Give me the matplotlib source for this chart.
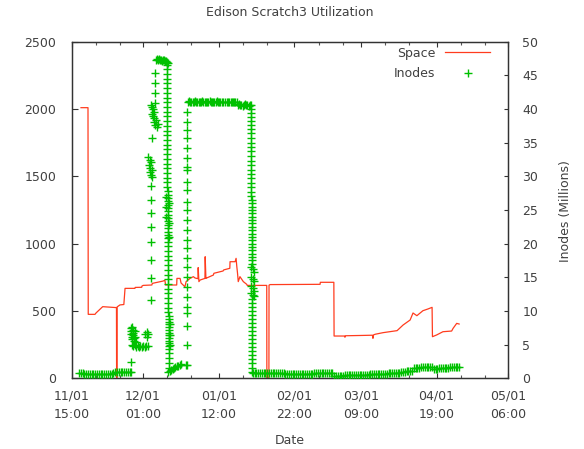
import matplotlib
matplotlib.use('Agg')
import matplotlib.pyplot as plt
import numpy as np
from matplotlib.lines import Line2D

# ---- axis definitions (time in days since 11/01 15:00) ----
x_max = 180.625
tick_days = [0.0, 29.4167, 60.875, 92.2917, 119.75, 151.1667, 180.625]
tick_labels = ['11/01\n15:00', '12/01\n01:00', '01/01\n12:00', '02/01\n22:00',
               '03/01\n09:00', '04/01\n19:00', '05/01\n06:00']
minor_days = [10.0, 20.0, 39.4, 49.4, 70.9, 80.9, 102.3, 112.3, 129.8, 139.8, 161.2, 171.2]
space_ticks = [0, 500, 1000, 1500, 2000, 2500]
inode_ticks = [0, 5, 10, 15, 20, 25, 30, 35, 40, 45, 50]

# ---- Space series (left axis) ----
space_t = [3.85, 6.75, 6.85, 9.65, 10.07, 12.84, 18.55, 18.6, 18.75, 18.8, 20.0, 21.6, 22.1,
           26.2, 26.3, 29.0, 29.1, 29.6, 33.2, 33.4, 37.8, 38.6, 38.9, 43.5, 43.6, 44.9,
           45.3, 46.9, 47.4, 49.0, 50.4, 51.1, 52.3, 52.4, 52.7, 53.2, 55.2, 55.3, 55.6,
           55.9, 58.7, 58.9, 62.7, 63.0, 65.5, 65.6, 67.7, 68.1, 68.4, 68.7, 69.0, 69.7,
           71.1, 72.5, 72.7, 80.8, 80.85, 81.7, 81.75, 82.2, 102.9, 103.0, 108.6, 108.7,
           113.0, 113.2, 113.4, 119.4, 124.6, 124.8, 125.0, 125.7, 129.0, 134.8, 137.3,
           140.2, 141.4, 143.0, 145.5, 147.6, 149.3, 149.45, 151.2, 153.8, 157.4, 158.0,
           159.5, 160.5]
space_v = [2010, 2010, 475, 475, 485, 532, 525, 0, 0, 530, 545, 548, 668,
           668, 675, 676, 685, 690, 693, 705, 722, 728, 693, 693, 742, 742,
           708, 680, 718, 742, 755, 745, 740, 822, 718, 730, 742, 903, 742,
           745, 767, 780, 797, 805, 817, 866, 866, 891, 830, 780, 718, 755,
           718, 698, 690, 690, 0, 0, 692, 696, 698, 713, 713, 314,
           314, 305, 316, 318, 320, 297, 322, 327, 339, 354, 396,
           433, 485, 465, 502, 515, 527, 309, 322, 346, 351, 371,
           408, 403]

# ---- Inodes series (right axis, millions) ----
band_early_t = [3.0, 3.75, 4.5, 5.25, 6.0, 6.75, 7.5, 8.25, 9.0, 9.75, 10.5, 11.25, 12.0,
                12.75, 13.5, 14.25, 15.0, 15.75, 16.5, 17.25, 18.0, 18.75, 19.5, 20.25,
                21.0, 21.75, 22.5, 23.25, 24.0, 24.75]
band_early_v = [0.8, 0.78, 0.75, 0.7, 0.65, 0.62, 0.6, 0.6, 0.6, 0.6, 0.6, 0.6, 0.6,
                0.6, 0.6, 0.62, 0.62, 0.65, 0.7, 0.8, 0.95, 0.95, 0.95, 0.95,
                0.97, 0.97, 0.98, 1.0, 1.0, 1.0]

cluster_dec_t = [24.7, 24.5, 24.6, 24.7, 24.8, 24.9, 25.1, 25.3, 25.4, 25.6, 25.7, 25.9,
                 26.1, 26.3, 26.5, 24.9, 25.5, 26.1, 26.7, 27.3, 27.9, 28.5, 29.1, 29.7,
                 30.3, 30.9, 31.5, 30.5, 31.0, 31.3, 31.6]
cluster_dec_v = [2.4, 7.4, 7.0, 6.6, 6.2, 5.8, 7.6, 7.2, 6.4, 6.8, 5.6, 6.0,
                 7.0, 6.2, 5.4, 5.0, 4.8, 4.9, 4.7, 4.8, 4.7, 4.8, 4.7, 4.8,
                 4.7, 4.8, 4.8, 6.6, 6.9, 6.2, 6.6]

rise_t = [32.7, 32.7, 32.7, 32.7, 32.7, 32.7, 32.7, 32.7, 33.3,
          31.8, 32.3, 32.8, 32.1, 32.6, 33.1, 32.4, 32.9, 33.3,
          32.8, 33.3, 33.8, 34.2, 33.2, 33.7, 34.3, 34.8, 34.0, 34.6, 35.2, 35.6,
          34.7, 34.7, 34.7, 34.7]
rise_v = [11.6, 14.9, 17.6, 20.3, 22.5, 24.5, 26.5, 28.5, 35.7,
          32.8, 32.5, 32.2, 31.7, 31.3, 31.0, 30.6, 30.2, 29.9,
          40.6, 40.3, 40.0, 39.6, 39.3, 39.0, 38.7, 38.4, 38.0, 37.7, 37.4, 37.8,
          40.9, 42.4, 43.9, 45.4]

peak_t = [34.9, 35.3, 35.7, 36.1, 36.5, 36.9, 37.3, 37.7, 38.1, 38.5, 38.9, 39.3, 39.8]
peak_v = [47.3, 47.4, 47.3, 47.4, 47.3, 47.3, 47.2, 47.3, 47.3, 47.2, 47.1, 47.0, 46.9]

fall1_t = [39.4, 39.4, 39.4, 39.4, 39.4, 39.4, 39.4, 39.4, 39.4, 39.4, 39.4, 39.4, 39.4,
           39.4, 39.4, 39.4, 39.4, 39.4, 39.4, 39.4, 39.4, 39.4, 39.4, 39.4, 39.4, 39.4, 39.4,
           39.8, 39.8, 39.8, 39.8, 39.8, 39.8, 39.8, 39.8, 39.8, 39.8, 39.8, 39.8, 39.8,
           39.8, 39.8, 39.8, 39.2, 39.2, 39.2, 40.2, 40.2, 40.2,
           40.0, 40.0, 40.0, 40.0, 40.0, 40.0, 40.0, 40.0, 40.0, 40.0, 40.0, 40.0, 40.0,
           40.0, 40.0, 40.3, 40.3, 40.3, 40.3, 40.3, 40.3, 40.3, 40.3, 40.3, 40.3, 40.3,
           40.3, 40.3, 40.8, 40.8, 40.8, 40.5, 40.5, 40.5, 40.5]
fall1_v = [46.6, 45.9, 45.2, 44.5, 43.8, 43.1, 42.4, 41.7, 41.0, 40.3, 39.6, 38.9, 38.2,
           37.5, 36.8, 36.1, 35.4, 34.7, 34.0, 33.3, 32.6, 31.9, 31.2, 30.5, 29.8, 29.1, 28.4,
           27.8, 27.3, 26.8, 26.3, 25.8, 25.3, 24.8, 24.3, 23.8, 23.3, 22.8, 22.3, 21.8,
           21.3, 20.8, 20.3, 27.0, 25.5, 24.0, 26.0, 23.0, 21.0,
           19.6, 18.9, 18.2, 17.5, 16.8, 16.1, 15.4, 14.7, 14.0, 13.3, 12.6, 11.9, 11.2,
           10.5, 9.8, 9.2, 8.8, 8.4, 8.0, 7.6, 7.2, 6.8, 6.4, 6.0, 5.6, 5.2,
           4.8, 4.4, 8.0, 6.5, 5.0, 3.7, 3.0, 2.3, 1.6]

low_jan_t = [40.0, 40.6, 41.2, 41.8, 42.4, 43.0, 43.6, 44.2, 44.8, 45.4, 47.3]
low_jan_v = [1.0, 1.1, 1.2, 1.4, 1.5, 1.7, 1.8, 1.9, 2.0, 2.1, 2.0]

rise2_t = [47.6, 47.6, 47.6, 47.6, 47.6, 47.6, 47.6, 47.6, 47.6, 47.6, 47.6, 47.6, 47.6,
           47.6, 47.6, 47.6, 47.6, 47.6, 47.6, 47.6, 47.6, 47.6, 47.6, 47.6, 47.6, 47.6]
rise2_v = [2.0, 4.9, 7.7, 9.7, 10.6, 12.1, 13.6, 15.1, 16.6, 17.8, 19.3, 20.5, 22.0,
           23.5, 25.0, 26.2, 28.0, 29.2, 30.9, 31.4, 32.7, 34.2, 35.7, 36.9, 38.1, 39.6]

plateau_t = [48.1, 48.6, 49.1, 49.6, 50.1, 50.6, 51.1, 51.6, 52.1, 52.6, 53.1, 53.6, 54.1,
             54.6, 55.1, 55.6, 56.1, 56.6, 57.1, 57.6, 58.1, 58.6, 59.1, 59.6, 60.1, 60.6,
             61.1, 61.6, 62.1, 62.6, 63.5, 64.3, 64.8, 65.3, 65.8, 66.3, 66.8, 67.3, 67.8,
             68.3, 68.8, 69.3, 69.8, 70.3, 70.8, 71.3, 71.8, 72.3, 72.8, 73.3, 73.8, 74.3]
plateau_v = [41.1, 41.2, 41.1, 41.1, 41.0, 41.1, 41.2, 41.1, 41.1, 41.0, 41.1, 41.1, 41.2,
             41.1, 41.1, 41.0, 41.1, 41.1, 41.2, 41.1, 41.1, 41.0, 41.1, 41.1, 41.2, 41.1,
             41.1, 41.0, 41.1, 41.1, 41.1, 41.1, 41.0, 41.1, 41.0, 41.0, 41.1, 41.0, 41.0,
             41.0, 40.6, 40.7, 40.6, 40.6, 40.5, 40.6, 40.7, 40.6, 40.6, 40.5, 40.6, 40.6]

fall2_t = [74.3, 74.3, 74.3, 74.3, 74.3, 74.3, 74.3, 74.3, 74.3, 74.3, 74.3, 74.3, 74.3,
           74.3, 74.3, 74.3, 74.3, 74.3, 74.3, 74.3, 74.3,
           74.6, 74.6, 74.6, 74.6, 74.6, 74.6, 74.6, 74.6, 74.6, 74.6, 74.6, 74.6, 74.6,
           74.6, 74.6, 74.6, 74.6, 74.6, 74.6, 74.6,
           74.2, 75.0, 75.7, 74.2, 75.0, 75.7, 74.2, 75.0, 75.7, 74.2, 75.0, 75.7,
           74.9, 74.9, 74.9, 74.9, 74.9, 74.9, 74.9, 74.9, 74.9, 74.9, 74.9, 74.9, 74.9,
           74.9, 74.9, 74.9, 74.9, 74.9, 74.9]
fall2_v = [40.0, 39.4, 38.8, 38.2, 37.6, 37.0, 36.4, 35.7, 35.0, 34.4, 33.7, 33.0, 32.3,
           31.7, 31.0, 30.3, 29.7, 29.0, 28.4, 27.7, 27.1,
           26.5, 26.0, 25.5, 25.0, 24.5, 24.0, 23.5, 23.0, 22.5, 22.0, 21.5, 21.0, 20.5,
           20.0, 19.5, 19.0, 18.5, 18.0, 17.5, 17.0,
           16.5, 16.2, 15.8, 15.1, 14.8, 14.4, 13.7, 13.4, 13.0, 12.6, 12.4, 12.2,
           11.8, 11.2, 10.6, 10.0, 9.4, 8.8, 8.2, 7.6, 7.0, 6.4, 5.8, 5.2, 4.6,
           4.0, 3.4, 2.8, 2.2, 1.6, 1.0]

band_late_t = [75.0, 75.75, 76.5, 77.25, 78.0, 78.75, 79.5, 80.25, 81.0, 81.75, 82.5, 83.25,
               84.0, 84.75, 85.5, 86.25, 87.0, 87.75, 88.5, 89.25, 90.0, 90.75, 91.5, 92.25,
               93.0, 93.75, 94.5, 95.25, 96.0, 96.75, 97.5, 98.25, 99.0, 99.75, 100.5, 101.25,
               102.0, 102.75, 103.5, 104.25, 105.0, 105.75, 106.5, 107.25, 108.0, 108.75,
               109.5, 110.25, 111.0, 111.75, 112.5, 113.25, 114.0, 114.75, 115.5, 116.25,
               117.0, 117.75, 118.5, 119.25, 120.0, 120.75, 121.5, 122.25, 123.0, 123.75,
               124.5, 125.25, 126.0, 126.75, 127.5, 128.25, 129.0, 129.75, 130.5, 131.25,
               132.0, 132.75, 133.5, 134.25, 135.0, 135.75, 136.5, 137.25, 138.0, 138.75,
               139.5, 140.25, 141.0, 141.75, 142.5, 143.25, 144.0, 144.75, 145.5, 146.25,
               147.0, 147.75, 148.5, 149.25, 150.0, 150.75, 151.5, 152.25, 153.0, 153.75,
               154.5, 155.25, 156.0, 156.75, 157.5, 158.25, 159.0, 159.75, 160.5]
band_late_v = [0.75, 0.75, 0.75, 0.74, 0.74, 0.74, 0.74, 0.74, 0.73, 0.73, 0.73, 0.73,
               0.72, 0.72, 0.72, 0.72, 0.72, 0.72, 0.7, 0.7, 0.7, 0.7, 0.7, 0.7,
               0.7, 0.7, 0.7, 0.7, 0.7, 0.7, 0.7, 0.7, 0.7, 0.7, 0.72, 0.72,
               0.72, 0.72, 0.72, 0.72, 0.72, 0.72, 0.72, 0.72, 0.72, 0.3,
               0.3, 0.3, 0.3, 0.3, 0.3, 0.45, 0.45, 0.46, 0.47, 0.48,
               0.48, 0.5, 0.5, 0.5, 0.52, 0.53, 0.54, 0.55, 0.55, 0.65,
               0.66, 0.67, 0.68, 0.68, 0.69, 0.7, 0.7, 0.7, 0.71, 0.72,
               0.72, 0.73, 0.74, 0.74, 0.75, 0.75, 0.95, 0.98, 1.0, 1.02,
               1.05, 1.08, 1.1, 1.5, 1.55, 1.6, 1.6, 1.62, 1.65, 1.65,
               1.68, 1.7, 1.7, 1.7, 1.35, 1.35, 1.35, 1.55, 1.55, 1.58,
               1.6, 1.6, 1.6, 1.62, 1.62, 1.63, 1.65, 1.65, 1.65]

inode_t = (band_early_t + cluster_dec_t + rise_t + peak_t + fall1_t + low_jan_t + rise2_t
           + plateau_t + fall2_t + band_late_t)
inode_v = (band_early_v + cluster_dec_v + rise_v + peak_v + fall1_v + low_jan_v + rise2_v
           + plateau_v + fall2_v + band_late_v)

RED = '#ff3c1e'
GREEN = '#00c000'
TXT = '#404040'
FS = 9

plt.rcParams['font.family'] = ['DejaVu Sans']
fig = plt.figure(figsize=(5.84, 4.49), dpi=100)
W, H = 584, 449
L, R, T, B = 71.7, 507.7, 41.7, 378.3
ax = fig.add_axes([L / W, 1 - B / H, (R - L) / W, (B - T) / H])
ax2 = ax.twinx()

ax.plot(space_t, space_v, color=RED, lw=0.9, zorder=2)
ax2.plot(inode_t, inode_v, linestyle='none', marker='+', ms=5.2, mew=1.0, color=GREEN, zorder=3)

ax.set_xlim(0, x_max)
ax.set_ylim(0, 2500)
ax2.set_ylim(0, 50)

ax.set_xticks(tick_days)
ax.set_xticklabels(tick_labels, linespacing=1.55)
ax.set_xticks(minor_days, minor=True)
ax.set_yticks(space_ticks)
ax2.set_yticks(inode_ticks)

ax.tick_params(axis='x', which='major', direction='in', length=3.5, width=0.8,
               top=True, bottom=True, labelsize=FS, labelcolor=TXT, pad=8, color='#333333')
ax.tick_params(axis='x', which='minor', direction='in', length=2.5, width=0.8,
               top=True, bottom=True, color='#555555')
ax.tick_params(axis='y', direction='in', length=4, width=0.8, left=True, right=False,
               labelsize=FS, labelcolor=TXT, pad=11, color='#333333')
ax2.tick_params(axis='y', direction='in', length=3, width=0.8, left=False, right=True,
                labelsize=FS, labelcolor=TXT, pad=10.5, color='#333333')

for a in (ax, ax2):
    for s in a.spines.values():
        s.set_color('#333333')
        s.set_linewidth(0.9)

fig.text(0.5 * (L + R) / W, 1 - 12 / H, 'Edison Scratch3 Utilization', ha='center', va='center',
         fontsize=FS, color=TXT)
fig.text(0.5 * (L + R) / W, 1 - 441 / H, 'Date', ha='center', va='center', fontsize=FS, color=TXT)
fig.text(565 / W, 1 - 211 / H, 'Inodes (Millions)', ha='center', va='center', rotation=90,
         fontsize=FS, color=TXT)

handles = [Line2D([], [], color=RED, lw=0.9),
           Line2D([], [], linestyle='none', marker='+', ms=5.2, mew=1.0, color=GREEN)]
leg = ax2.legend(handles, ['Space', 'Inodes'], loc='upper right', markerfirst=False,
                 frameon=False, fontsize=FS, handlelength=3.6, handletextpad=0.8,
                 labelspacing=0.6, borderpad=0, borderaxespad=0, numpoints=1,
                 bbox_to_anchor=(490 / W, 1 - 46.5 / H), bbox_transform=fig.transFigure)
for t in leg.get_texts():
    t.set_color(TXT)

fig.savefig('out.png', dpi=100)
